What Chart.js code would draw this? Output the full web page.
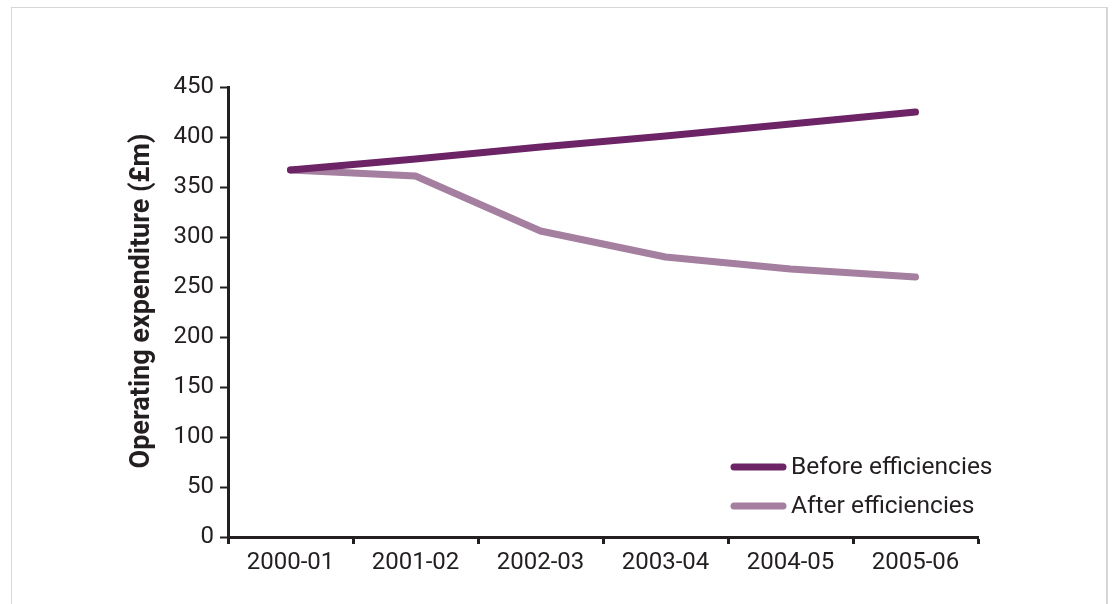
<!DOCTYPE html>
<html>
<head>
<meta charset="utf-8">
<script src="https://cdn.jsdelivr.net/npm/chart.js@4/dist/chart.umd.min.js"></script>
<style>
html,body{margin:0;padding:0;background:#fff;overflow:hidden;}
#wrap{position:relative;width:1114px;height:604px;}
#frame{position:absolute;left:11px;top:7px;width:1094px;height:700px;border-top:1px solid #d6d6d6;border-left:1px solid #d6d6d6;border-right:2px solid #d6d6d6;}
#c{position:absolute;left:0;top:0;}
</style>
</head>
<body>
<div id="wrap">
<div id="frame"></div>
<canvas id="c" width="1114" height="604"></canvas>
</div>
<script>
const categories = ["2000-01","2001-02","2002-03","2003-04","2004-05","2005-06"];
const beforeEfficiencies = [367, 378, 390, 401, 413, 425];
const afterEfficiencies = [367, 361, 306, 280, 268, 260];
const seriesNames = ["Before efficiencies","After efficiencies"];
const yTicks = [0,50,100,150,200,250,300,350,400,450];
const yTitle = "Operating expenditure (£m)";

const FONT = "'Roboto', 'DejaVu Sans', sans-serif";
const INK = '#231f20';
const COLORS = ['#6c2467','#a57f9f'];

const legendInside = {
  id: 'legendInside',
  afterDraw(chart) {
    const ctx = chart.ctx;
    ctx.save();
    chart.data.datasets.forEach((ds, i) => {
      const y = 467 + i * 39;
      const x0 = 734, x1 = 783;
      ctx.strokeStyle = ds.borderColor;
      ctx.lineWidth = 7;
      ctx.lineCap = 'round';
      ctx.beginPath(); ctx.moveTo(x0, y); ctx.lineTo(x1, y); ctx.stroke();
      ctx.fillStyle = INK;
      ctx.font = '24.5px ' + FONT;
      ctx.textBaseline = 'middle';
      ctx.textAlign = 'left';
      ctx.fillText(ds.label, 791, y + 1);
    });
    // y-axis title
    ctx.translate(142, 301);
    ctx.rotate(-Math.PI / 2);
    ctx.font = 'bold 27px ' + FONT;
    ctx.fillStyle = INK;
    ctx.textAlign = 'center';
    ctx.textBaseline = 'middle';
    ctx.fillText(yTitle, 0, 0);
    ctx.restore();
  }
};

new Chart(document.getElementById('c'), {
  type: 'line',
  data: {
    labels: categories,
    datasets: [
      { label: seriesNames[0], data: beforeEfficiencies, borderColor: COLORS[0], backgroundColor: COLORS[0] },
      { label: seriesNames[1], data: afterEfficiencies, borderColor: COLORS[1], backgroundColor: COLORS[1] }
    ]
  },
  options: {
    responsive: false,
    animation: false,
    devicePixelRatio: 1,
    layout: { padding: { left: 124, top: 87, right: 136, bottom: 0 } },
    elements: {
      line: { borderWidth: 7, tension: 0, borderCapStyle: 'round', borderJoinStyle: 'round' },
      point: { radius: 0, hoverRadius: 0 }
    },
    plugins: { legend: { display: false }, tooltip: { enabled: false } },
    scales: {
      x: {
        offset: true,
        grid: { offset: true, drawOnChartArea: false, drawTicks: true, tickLength: 7, tickWidth: 3, tickColor: INK },
        border: { display: true, color: INK, width: 3 },
        ticks: { color: INK, font: { family: FONT, size: 24 }, padding: 5, maxRotation: 0, autoSkip: false },
        afterFit(s) { s.height = 67; }
      },
      y: {
        min: 0, max: 450,
        afterBuildTicks(s) { s.ticks = yTicks.map(v => ({ value: v })); },
        grid: { drawOnChartArea: false, drawTicks: true, tickLength: 8, tickWidth: 2, tickColor: INK },
        border: { display: true, color: INK, width: 3 },
        ticks: { color: INK, font: { family: FONT, size: 24 }, padding: 6 },
        title: { display: false, text: yTitle },
        afterFit(s) { s.width = 104; }
      }
    }
  },
  plugins: [legendInside]
});
</script>
</body>
</html>
